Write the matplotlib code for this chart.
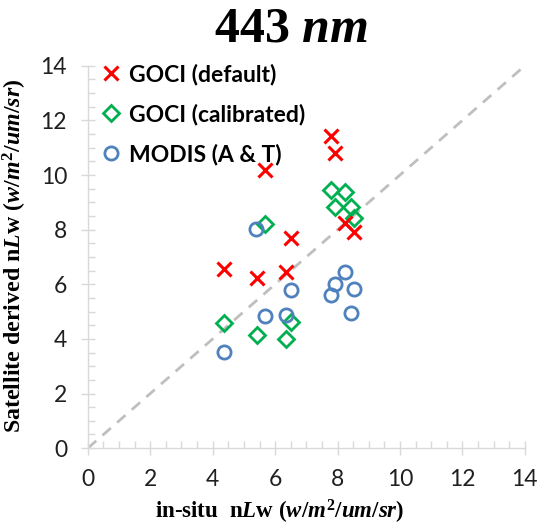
import numpy as np
import matplotlib.pyplot as plt
from matplotlib.ticker import MultipleLocator

plt.rcParams['mathtext.fontset'] = 'custom'
plt.rcParams['mathtext.rm'] = 'Liberation Serif:bold'
plt.rcParams['mathtext.it'] = 'Liberation Serif:bold:italic'
plt.rcParams['mathtext.bf'] = 'Liberation Serif:bold'

# in-situ nLw values and satellite derived values
goci_default_x = [4.36, 5.41, 5.67, 6.36, 6.50, 7.79, 7.91, 8.23, 8.53]
goci_default_y = [6.56, 6.22, 10.18, 6.44, 7.68, 11.43, 10.82, 8.23, 7.92]

goci_calib_x = [4.36, 5.41, 5.67, 6.36, 6.50, 7.79, 8.23, 7.91, 8.43, 8.53]
goci_calib_y = [4.59, 4.14, 8.21, 3.99, 4.63, 9.45, 9.39, 8.84, 8.82, 8.41]

modis_x = [4.36, 5.39, 5.67, 6.36, 6.50, 8.23, 7.91, 8.53, 7.79, 8.43]
modis_y = [3.53, 8.01, 4.84, 4.87, 5.79, 6.44, 6.00, 5.81, 5.60, 4.93]

ticks = [0, 2, 4, 6, 8, 10, 12, 14]

fig = plt.figure(figsize=(5.49, 5.26), dpi=100)
ax = fig.add_axes([0.160, 0.148, 0.796, 0.727])

# 1:1 line
ax.plot([0, 14], [0, 14], color='#BFBFBF', lw=2, ls=(0, (4, 3)), zorder=1)

ax.plot(goci_default_x, goci_default_y, ls='none', marker='x', ms=10, mew=2.2,
        color='#FF0000', label='GOCI (default)', zorder=3)
ax.plot(goci_calib_x, goci_calib_y, ls='none', marker='D', ms=8, mew=2,
        mfc='none', mec='#00B050', label='GOCI (calibrated)', zorder=2)
ax.plot(modis_x, modis_y, ls='none', marker='o', ms=9.5, mew=2,
        mfc='none', mec='#4F81BD', label='MODIS (A & T)', zorder=2)

ax.set_xlim(0, 14)
ax.set_ylim(0, 14)
ax.set_xticks(ticks)
ax.set_yticks(ticks)
ax.xaxis.set_minor_locator(MultipleLocator(0.5))
ax.yaxis.set_minor_locator(MultipleLocator(0.5))

for s in ['top', 'right']:
    ax.spines[s].set_visible(False)
for s in ['left', 'bottom']:
    ax.spines[s].set_color('#D9D9D9')
    ax.spines[s].set_linewidth(1)

ax.tick_params(which='major', direction='inout', length=10, width=1, color='#D9D9D9',
               labelsize=16.5)
ax.tick_params(axis='x', which='major', pad=10)
ax.tick_params(axis='y', which='major', pad=10)
ax.tick_params(which='minor', direction='in', length=5, width=1, color='#D9D9D9')
for lab in ax.get_xticklabels() + ax.get_yticklabels():
    lab.set_family('Lato')
    lab.set_color('#202020')

ax.set_xlabel(r'$\mathrm{in\text{-}situ}\ \ \mathrm{n}\mathit{L}\mathrm{w}\ (\mathit{w/m^2/um/sr})$',
              fontsize=16.5)
ax.xaxis.set_label_coords(0.44, -0.13)
ax.set_ylabel(r'$\mathrm{Satellite\ derived\ n}\mathit{L}\mathrm{w}\ (\mathit{w/m^2/um/sr})$',
              fontsize=17.2)
ax.yaxis.set_label_coords(-0.135, 0.503)

fig.text(0.53, 0.948, r'$\mathrm{443}\ \mathit{nm}$', fontsize=36,
         ha='center', va='center')

leg = ax.legend(loc='upper left', frameon=False, handletextpad=0.2,
                labelspacing=0.8, borderaxespad=0.0, handlelength=1.2,
                bbox_to_anchor=(0.0, 1.03),
                prop={'family': 'Lato', 'weight': 'bold', 'size': 16.5})

fig.savefig('out.png', dpi=100)
